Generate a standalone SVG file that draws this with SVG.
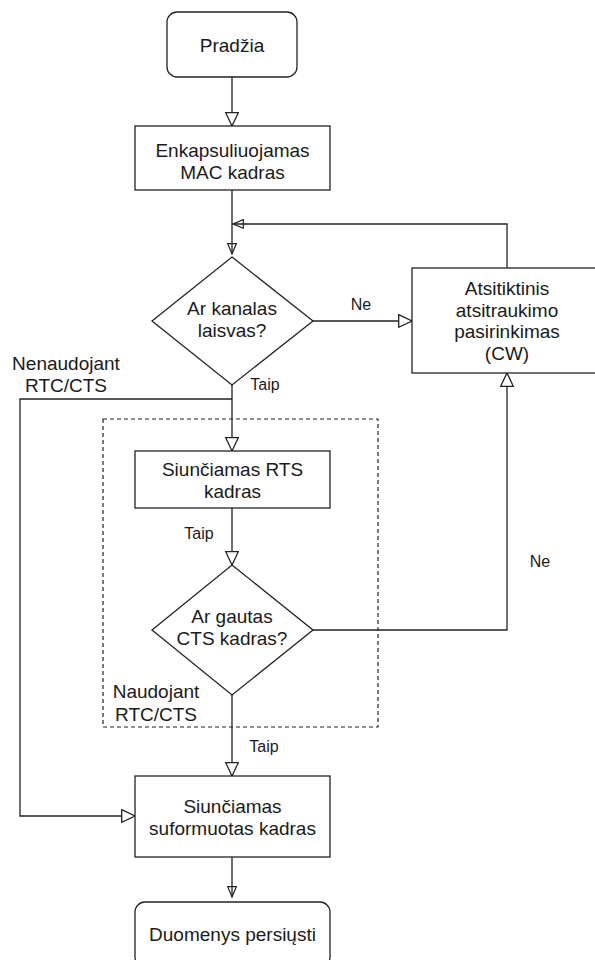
<svg xmlns="http://www.w3.org/2000/svg" width="595" height="960" viewBox="0 0 595 960">
  <style>
    .shape { fill: #ffffff; stroke: #222222; stroke-width: 1.3; }
    .edge { fill: none; stroke: #222222; stroke-width: 1.3; }
    .group { fill: none; stroke: #222222; stroke-width: 1.2; stroke-dasharray: 4 3; }
    .t { font-family: "Liberation Sans", Arial, sans-serif; font-size: 19px; fill: #1a1a1a; text-anchor: middle; }
    .lbl { font-family: "Liberation Sans", Arial, sans-serif; font-size: 16px; fill: #1a1a1a; text-anchor: middle; }
  </style>
  <defs>
    <marker id="open" markerUnits="userSpaceOnUse" markerWidth="16" markerHeight="16" refX="14" refY="7" orient="auto">
      <path d="M0.7,0.7 L14,7 L0.7,13.3 Z" fill="#ffffff" stroke="#222222" stroke-width="1.3"/>
    </marker>
    <marker id="thin" markerUnits="userSpaceOnUse" markerWidth="12" markerHeight="12" refX="11" refY="5" orient="auto">
      <path d="M0.7,0.7 L11,5 L0.7,9.3 Z" fill="none" stroke="#222222" stroke-width="1.2"/>
    </marker>
  </defs>

  <rect id="rtsGroup" class="group" x="103" y="419" width="275" height="308"/>

  <g id="connectors">
    <path class="edge" d="M232,77 V126" marker-end="url(#open)"/>
    <path class="edge" d="M232,190 V254" marker-end="url(#thin)"/>
    <path class="edge" d="M507,268 V224 H233" marker-end="url(#thin)"/>
    <path class="edge" d="M313,321 H412" marker-end="url(#open)"/>
    <path class="edge" d="M232,385 V451" marker-end="url(#open)"/>
    <path class="edge" d="M232,399 H20 V816 H135" marker-end="url(#open)"/>
    <path class="edge" d="M232,508 V565" marker-end="url(#open)"/>
    <path class="edge" d="M313,630 H507 V373" marker-end="url(#open)"/>
    <path class="edge" d="M232,695 V776" marker-end="url(#open)"/>
    <path class="edge" d="M232,857 V897" marker-end="url(#thin)"/>
    <text class="lbl" x="361" y="310">Ne</text>
    <text class="lbl" x="265" y="390">Taip</text>
    <text class="lbl" x="199" y="539">Taip</text>
    <text class="lbl" x="540" y="567">Ne</text>
    <text class="lbl" x="264" y="752">Taip</text>
  </g>

  <g id="start">
    <rect class="shape" x="167" y="12" width="130" height="65" rx="10"/>
    <text class="t" x="232" y="52">Pradžia</text>
  </g>

  <g id="encapsulate">
    <rect class="shape" x="135" y="126" width="195" height="64"/>
    <text class="t" x="232.5" y="157">Enkapsuliuojamas</text>
    <text class="t" x="232.5" y="178.5">MAC kadras</text>
  </g>

  <g id="channelFree">
    <polygon class="shape" points="232,257 313,321 232,385 152,321"/>
    <text class="t" x="232" y="315">Ar kanalas</text>
    <text class="t" x="232" y="337">laisvas?</text>
  </g>

  <g id="backoff">
    <rect class="shape" x="412" y="268" width="190" height="105"/>
    <text class="t" x="507" y="295">Atsitiktinis</text>
    <text class="t" x="507" y="316.5">atsitraukimo</text>
    <text class="t" x="507" y="338">pasirinkimas</text>
    <text class="t" x="507" y="359.5">(CW)</text>
  </g>

  <g id="withoutRts">
    <text class="t" x="66" y="370">Nenaudojant</text>
    <text class="t" x="66" y="392">RTC/CTS</text>
  </g>

  <g id="sendRts">
    <rect class="shape" x="135" y="451" width="195" height="57"/>
    <text class="t" x="232.5" y="476">Siunčiamas RTS</text>
    <text class="t" x="232.5" y="497.5">kadras</text>
  </g>

  <g id="ctsReceived">
    <polygon class="shape" points="232,565 313,630 232,695 152,630"/>
    <text class="t" x="232" y="623">Ar gautas</text>
    <text class="t" x="232" y="645">CTS kadras?</text>
  </g>

  <g id="withRts">
    <text class="t" x="156" y="698">Naudojant</text>
    <text class="t" x="156" y="721">RTC/CTS</text>
  </g>

  <g id="sendFrame">
    <rect class="shape" x="135" y="776" width="195" height="81"/>
    <text class="t" x="232.5" y="812.5">Siunčiamas</text>
    <text class="t" x="232.5" y="834.5">suformuotas kadras</text>
  </g>

  <g id="done">
    <rect class="shape" x="135" y="902" width="195" height="65" rx="10"/>
    <text class="t" x="232.5" y="941">Duomenys persiųsti</text>
  </g>
</svg>
